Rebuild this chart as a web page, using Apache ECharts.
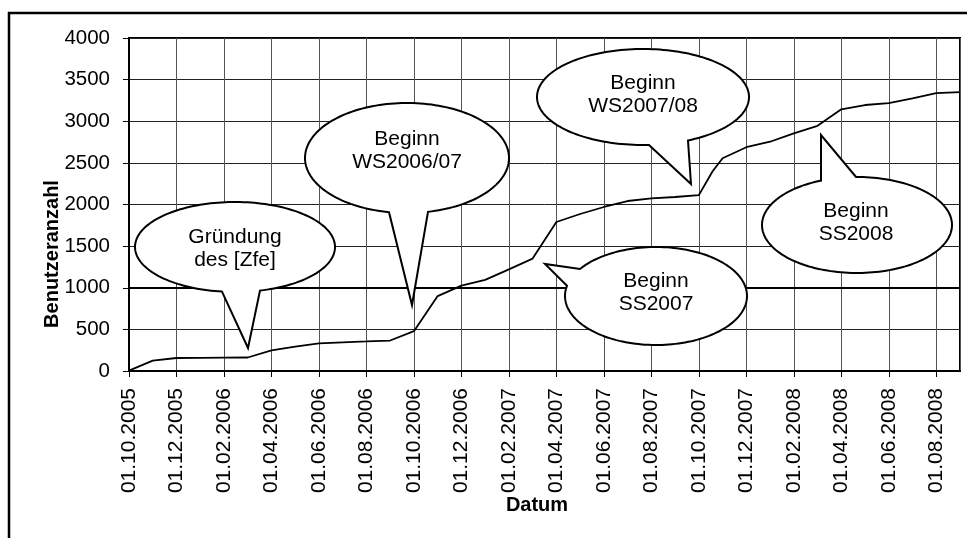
<!DOCTYPE html>
<html>
<head>
<meta charset="utf-8">
<script src="https://cdn.jsdelivr.net/npm/echarts@6/dist/echarts.min.js"></script>
<style>
  html, body { margin: 0; padding: 0; background: #fff; }
  #chart { width: 967px; height: 538px; }
</style>
</head>
<body>
<div id="chart"></div>
<script>
// Benutzerzahlen, Stichtage
var dates = [
  '01.10.2005', '01.11.2005', '01.12.2005', '01.01.2006', '01.02.2006', '01.03.2006',
  '01.04.2006', '01.05.2006', '01.06.2006', '01.07.2006', '01.08.2006', '01.09.2006',
  '01.10.2006', '01.11.2006', '01.12.2006', '01.01.2007', '01.02.2007', '01.03.2007',
  '01.04.2007', '01.05.2007', '01.06.2007', '01.07.2007', '01.08.2007', '01.09.2007',
  '01.10.2007', '19.10.2007', '01.11.2007', '01.12.2007', '01.01.2008', '01.02.2008',
  '01.03.2008', '01.04.2008', '01.05.2008', '01.06.2008', '01.07.2008', '01.08.2008',
  '01.09.2008'
];
var users = [
  5, 124, 156, 158, 160, 162,
  249, 292, 332, 345, 355, 366,
  478, 900, 1025, 1095, 1220, 1350,
  1790, 1886, 1970, 2042, 2074, 2090,
  2112, 2400, 2555, 2688, 2754, 2855,
  2945, 3143, 3195, 3218, 3275, 3338,
  3350
];
var yMin = 0, yMax = 4000, yStep = 500;
var xStep = 2;          // Monate zwischen den Beschriftungen
var lastMonth = 35;     // 01.09.2008
var refLine = 1000;

// Monate seit 01.10.2005
var monthIndex = function(s) {
  var p = s.split('.');
  var d = +p[0], m = +p[1], y = +p[2];
  var dim = new Date(y, m, 0).getDate();
  return (y - 2005) * 12 + (m - 10) + (d - 1) / dim;
}
var monthLabel = function(v) {
  var y = 2005 + Math.floor((v + 9) / 12);
  var m = ((v + 9) % 12) + 1;
  return '01.' + (m < 10 ? '0' : '') + m + '.' + y;
}

var points = [];
for (var i = 0; i < dates.length; i++) {
  points.push([monthIndex(dates[i]), users[i]]);
}

// Sprechblasen (Lage in Pixeln)
var bubbles = [
  {cx: 235, cy: 247, rx: 100, ry: 45, b1: 222, b2: 260, side: 1, tip: [248, 348], text: 'Gründung\ndes [Zfe]', tx: 235, ty: 249},
  {cx: 407, cy: 158, rx: 102, ry: 55, b1: 389, b2: 428, side: 1, tip: [412, 305], text: 'Beginn\nWS2006/07', tx: 407, ty: 151},
  {cx: 643, cy: 97, rx: 106, ry: 48, b1: 649, b2: 688, side: 1, tip: [691, 184], text: 'Beginn\nWS2007/08', tx: 643, ty: 95},
  {cx: 656, cy: 296, rx: 91, ry: 49, b1: 580, b2: 567, side: -1, tip: [545, 264], text: 'Beginn\nSS2007', tx: 656, ty: 293},
  {cx: 857, cy: 225, rx: 95, ry: 48, b1: 821, b2: 856, side: -1, tip: [821, 135], text: 'Beginn\nSS2008', tx: 856, ty: 223}
];

var bubbleShape = function(c) {
  var ang = function(bx) {
    var k = Math.max(-1, Math.min(1, (bx - c.cx) / c.rx));
    return Math.acos(k) * 180 / Math.PI * c.side;
  }
  var a = ang(c.b1), b = ang(c.b2);
  var d = ((b - a) % 360 + 360) % 360;
  var start, span;
  if (d < 180) { start = b; span = 360 - d; } else { start = a; span = d; }
  var pts = [];
  var n = 160;
  for (var j = 0; j <= n; j++) {
    var t = (start + span * j / n) * Math.PI / 180;
    pts.push([c.cx + c.rx * Math.cos(t), c.cy + c.ry * Math.sin(t)]);
  }
  pts.push(c.tip);
  return pts;
}

var font = '"Liberation Sans", Arial, sans-serif';
var graphics = [
  {type: 'rect', shape: {x: 9, y: 13, width: 1000, height: 1000}, style: {fill: 'none', stroke: '#000', lineWidth: 2.5}, z: 1, silent: true},
  {type: 'text', x: 52, y: 254, rotation: Math.PI / 2, style: {text: 'Benutzeranzahl', font: 'bold 20px ' + font, fill: '#000', textAlign: 'center', textVerticalAlign: 'middle'}, silent: true},
  {type: 'text', x: 537, y: 505, style: {text: 'Datum', font: 'bold 20px ' + font, fill: '#000', textAlign: 'center', textVerticalAlign: 'middle'}, silent: true}
];
for (var i = 0; i < bubbles.length; i++) {
  graphics.push({type: 'polygon', shape: {points: bubbleShape(bubbles[i])}, style: {fill: '#fff', stroke: '#000', lineWidth: 2, lineJoin: 'miter'}, z: 100, silent: true});
  graphics.push({type: 'text', x: bubbles[i].tx, y: bubbles[i].ty, style: {text: bubbles[i].text, font: '21px ' + font, fill: '#000', textAlign: 'center', textVerticalAlign: 'middle', lineHeight: 23}, z: 101, silent: true});
}

var chart = echarts.init(document.getElementById('chart'));
var option = {
  animation: false,
  backgroundColor: '#fff',
  grid: {
    left: 129, top: 38, right: 7, bottom: 167,
    show: true, borderColor: '#000', borderWidth: 2, backgroundColor: 'transparent'
  },
  xAxis: {
    type: 'value',
    min: 0, max: lastMonth, interval: xStep,
    axisLine: {show: true, lineStyle: {color: '#000', width: 2}},
    axisTick: {show: true, length: 6, lineStyle: {color: '#000', width: 1}},
    axisLabel: {
      rotate: 90, margin: 17, color: '#000', fontSize: 21, fontFamily: font,
      showMaxLabel: false,
      formatter: function(v) { return monthLabel(v); }
    },
    splitLine: {show: true, lineStyle: {color: '#555', width: 1}}
  },
  yAxis: {
    type: 'value',
    min: yMin, max: yMax, interval: yStep,
    axisLine: {show: true, lineStyle: {color: '#000', width: 2}},
    axisTick: {show: true, length: 6, lineStyle: {color: '#000', width: 1}},
    axisLabel: {
      margin: 19, color: '#000', fontSize: 20.5, fontFamily: font,
      formatter: function(v) { return String(v); }
    },
    splitLine: {show: true, lineStyle: {color: '#222', width: 1}}
  },
  series: [{
    type: 'line',
    data: points,
    showSymbol: false,
    symbol: 'none',
    lineStyle: {color: '#000', width: 1.8},
    markLine: {
      silent: true,
      symbol: 'none',
      label: {show: false},
      lineStyle: {color: '#000', width: 2, type: 'solid'},
      data: [{yAxis: refLine}]
    }
  }],
  graphic: graphics
};
chart.setOption(option);
</script>
</body>
</html>
